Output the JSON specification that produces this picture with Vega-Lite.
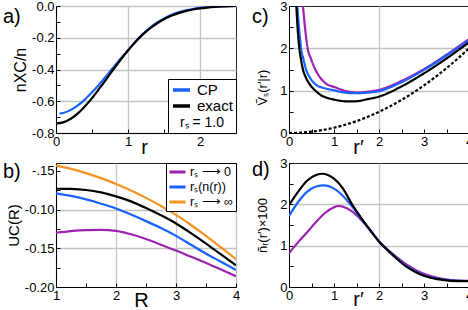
{
  "$schema": "https://vega.github.io/schema/vega-lite/v6.json",
  "padding": {"left": 2, "top": -1, "right": 0, "bottom": 0},
  "background": "white",
  "columns": 2,
  "spacing": {"row": -2, "column": 10},
  "resolve": {"scale": {"color": "independent", "strokeDash": "independent"}, "legend": {"color": "independent", "strokeDash": "independent"}},
  "config": {
    "font": "Liberation Sans",
    "view": {"stroke": "#222222", "strokeWidth": 1},
    "axis": {
      "labelFont": "Liberation Sans", "labelFontSize": 13, "labelColor": "#000000",
      "labelFlush": false, "labelOverlap": false, "labelPadding": 6,
      "domainColor": "#000000", "tickColor": "#000000", "tickSize": -4,
      "gridColor": "#c4c4c4", "gridWidth": 1.3,
      "titleFont": "Liberation Sans", "titleFontWeight": "normal", "titleColor": "#000000"
    },
    "title": {"fontSize": 20, "fontWeight": "normal", "anchor": "start", "frame": "group", "offset": 0, "baseline": "top", "font": "Liberation Sans"},
    "legend": {"labelFont": "Liberation Sans", "titleFont": "Liberation Sans", "labelColor": "#000000", "titleColor": "#000000"}
  },
  "concat": [
    {
      "width": 180, "height": 127,
      "title": {"text": "a)", "dx": -53, "dy": 31},
      "data": {"values": [
        {"r": 0.05, "y": -0.678, "s": "CP"}, {"r": 0.1, "y": -0.674, "s": "CP"}, {"r": 0.2, "y": -0.656, "s": "CP"},
        {"r": 0.3, "y": -0.628, "s": "CP"}, {"r": 0.4, "y": -0.59, "s": "CP"}, {"r": 0.5, "y": -0.544, "s": "CP"},
        {"r": 0.6, "y": -0.494, "s": "CP"}, {"r": 0.7, "y": -0.44, "s": "CP"}, {"r": 0.8, "y": -0.385, "s": "CP"},
        {"r": 0.9, "y": -0.33, "s": "CP"}, {"r": 1.0, "y": -0.278, "s": "CP"}, {"r": 1.1, "y": -0.226, "s": "CP"},
        {"r": 1.2, "y": -0.179, "s": "CP"}, {"r": 1.3, "y": -0.139, "s": "CP"}, {"r": 1.4, "y": -0.105, "s": "CP"},
        {"r": 1.5, "y": -0.078, "s": "CP"}, {"r": 1.6, "y": -0.056, "s": "CP"}, {"r": 1.7, "y": -0.04, "s": "CP"},
        {"r": 1.8, "y": -0.028, "s": "CP"}, {"r": 1.9, "y": -0.019, "s": "CP"}, {"r": 2.0, "y": -0.012, "s": "CP"},
        {"r": 2.1, "y": -0.007, "s": "CP"}, {"r": 2.2, "y": -0.004, "s": "CP"}, {"r": 2.3, "y": -0.002, "s": "CP"},
        {"r": 2.4, "y": -0.001, "s": "CP"}, {"r": 2.5, "y": 0.0, "s": "CP"},
        {"r": 0.0, "y": -0.74, "s": "exact"}, {"r": 0.1, "y": -0.733, "s": "exact"}, {"r": 0.2, "y": -0.712, "s": "exact"},
        {"r": 0.3, "y": -0.678, "s": "exact"}, {"r": 0.4, "y": -0.633, "s": "exact"}, {"r": 0.5, "y": -0.58, "s": "exact"},
        {"r": 0.6, "y": -0.521, "s": "exact"}, {"r": 0.7, "y": -0.46, "s": "exact"}, {"r": 0.8, "y": -0.397, "s": "exact"},
        {"r": 0.9, "y": -0.337, "s": "exact"}, {"r": 1.0, "y": -0.28, "s": "exact"}, {"r": 1.1, "y": -0.228, "s": "exact"},
        {"r": 1.2, "y": -0.182, "s": "exact"}, {"r": 1.3, "y": -0.143, "s": "exact"}, {"r": 1.4, "y": -0.11, "s": "exact"},
        {"r": 1.5, "y": -0.083, "s": "exact"}, {"r": 1.6, "y": -0.061, "s": "exact"}, {"r": 1.7, "y": -0.045, "s": "exact"},
        {"r": 1.8, "y": -0.032, "s": "exact"}, {"r": 1.9, "y": -0.022, "s": "exact"}, {"r": 2.0, "y": -0.015, "s": "exact"},
        {"r": 2.1, "y": -0.01, "s": "exact"}, {"r": 2.2, "y": -0.006, "s": "exact"}, {"r": 2.3, "y": -0.003, "s": "exact"},
        {"r": 2.4, "y": -0.001, "s": "exact"}, {"r": 2.5, "y": 0.0, "s": "exact"}
      ]},
      "mark": {"type": "line", "strokeWidth": 2.2, "clip": true, "interpolate": "monotone"},
      "encoding": {
        "x": {"field": "r", "type": "quantitative", "scale": {"domain": [0, 2.5], "nice": false, "zero": false},
          "axis": {"values": [0, 0.5, 1, 1.5, 2, 2.5], "labelExpr": "datum.value % 1 === 0 ? '' + datum.value : ''",
            "gridOpacity": {"condition": {"test": "datum.value % 1 === 0", "value": 1}, "value": 0},
            "title": "r", "titleFontSize": 20, "titleX": 88, "titleY": 20, "titleBaseline": "alphabetic", "titleAlign": "center"}},
        "y": {"field": "y", "type": "quantitative", "scale": {"domain": [-0.8, 0], "nice": false, "zero": false},
          "axis": {"values": [-0.8, -0.7, -0.6, -0.5, -0.4, -0.3, -0.2, -0.1, 0],
            "labelExpr": "['-0.8','','-0.6','','-0.4','','-0.2','','0.0'][round(datum.value*10)+8]",
            "gridOpacity": {"condition": {"test": "round(datum.value*10) % 2 === 0", "value": 1}, "value": 0},
            "title": "nXC/n", "titleFontSize": 16, "titlePadding": 3}},
        "color": {"field": "s", "type": "nominal",
          "scale": {"domain": ["CP", "exact"], "range": ["#1a62ff", "#000000"]},
          "legend": {"orient": "bottom-right", "offset": 0, "title": "rₛ = 1.0", "titleOrient": "bottom", "titleAnchor": "middle",
            "titleFontSize": 14, "titleFontWeight": "normal", "titlePadding": 2, "labelFontSize": 15, "symbolType": "stroke", "symbolStrokeWidth": 3.5,
            "symbolSize": 289, "clipHeight": 16, "strokeColor": "#000000", "fillColor": "#ffffff", "padding": 3, "rowPadding": 0, "cornerRadius": 0, "labelOffset": 5}}
      }
    },
    {
      "width": 180, "height": 127,
      "title": {"text": "c)", "dx": -37, "dy": 31},
      "data": {"values": [
        {"r": 0.31, "y": 3.0, "s": "p"}, {"r": 0.36, "y": 2.45, "s": "p"}, {"r": 0.415, "y": 2.0, "s": "p"}, {"r": 0.49, "y": 1.75, "s": "p"},
        {"r": 0.585, "y": 1.5, "s": "p"}, {"r": 0.7, "y": 1.3, "s": "p"}, {"r": 0.83, "y": 1.16, "s": "p"}, {"r": 1.0, "y": 1.09, "s": "p"},
        {"r": 1.2, "y": 1.01, "s": "p"}, {"r": 1.4, "y": 0.965, "s": "p"}, {"r": 1.55, "y": 0.955, "s": "p"}, {"r": 1.75, "y": 0.975, "s": "p"},
        {"r": 2.0, "y": 1.02, "s": "p"}, {"r": 2.5, "y": 1.23, "s": "p"}, {"r": 3.0, "y": 1.51, "s": "p"}, {"r": 3.5, "y": 1.85, "s": "p"},
        {"r": 4.0, "y": 2.22, "s": "p"},
        {"r": 0.185, "y": 3.0, "s": "b"}, {"r": 0.225, "y": 2.45, "s": "b"}, {"r": 0.27, "y": 2.0, "s": "b"}, {"r": 0.32, "y": 1.75, "s": "b"},
        {"r": 0.38, "y": 1.5, "s": "b"}, {"r": 0.47, "y": 1.3, "s": "b"}, {"r": 0.585, "y": 1.15, "s": "b"}, {"r": 0.75, "y": 1.07, "s": "b"},
        {"r": 1.0, "y": 1.01, "s": "b"}, {"r": 1.2, "y": 0.96, "s": "b"}, {"r": 1.44, "y": 0.94, "s": "b"}, {"r": 1.7, "y": 0.95, "s": "b"},
        {"r": 2.0, "y": 0.99, "s": "b"}, {"r": 2.5, "y": 1.2, "s": "b"}, {"r": 3.0, "y": 1.49, "s": "b"}, {"r": 3.5, "y": 1.83, "s": "b"},
        {"r": 4.0, "y": 2.19, "s": "b"},
        {"r": 0.163, "y": 3.0, "s": "k"}, {"r": 0.195, "y": 2.42, "s": "k"}, {"r": 0.23, "y": 2.0, "s": "k"}, {"r": 0.265, "y": 1.75, "s": "k"},
        {"r": 0.31, "y": 1.5, "s": "k"}, {"r": 0.38, "y": 1.3, "s": "k"}, {"r": 0.46, "y": 1.15, "s": "k"}, {"r": 0.585, "y": 1.0, "s": "k"},
        {"r": 0.7, "y": 0.9, "s": "k"}, {"r": 0.85, "y": 0.83, "s": "k"}, {"r": 1.0, "y": 0.79, "s": "k"}, {"r": 1.15, "y": 0.76, "s": "k"},
        {"r": 1.33, "y": 0.745, "s": "k"}, {"r": 1.5, "y": 0.75, "s": "k"}, {"r": 1.75, "y": 0.8, "s": "k"}, {"r": 2.0, "y": 0.86, "s": "k"},
        {"r": 2.5, "y": 1.1, "s": "k"}, {"r": 3.0, "y": 1.41, "s": "k"}, {"r": 3.5, "y": 1.76, "s": "k"}, {"r": 4.0, "y": 2.14, "s": "k"},
        {"r": 0.0, "y": 0.0, "s": "d"}, {"r": 0.25, "y": 0.008, "s": "d"}, {"r": 0.5, "y": 0.031, "s": "d"}, {"r": 0.75, "y": 0.07, "s": "d"},
        {"r": 1.0, "y": 0.125, "s": "d"}, {"r": 1.25, "y": 0.195, "s": "d"}, {"r": 1.5, "y": 0.281, "s": "d"}, {"r": 1.75, "y": 0.383, "s": "d"},
        {"r": 2.0, "y": 0.5, "s": "d"}, {"r": 2.25, "y": 0.633, "s": "d"}, {"r": 2.5, "y": 0.781, "s": "d"}, {"r": 2.75, "y": 0.945, "s": "d"},
        {"r": 3.0, "y": 1.125, "s": "d"}, {"r": 3.25, "y": 1.32, "s": "d"}, {"r": 3.5, "y": 1.531, "s": "d"}, {"r": 3.75, "y": 1.758, "s": "d"},
        {"r": 4.0, "y": 2.0, "s": "d"}
      ]},
      "mark": {"type": "line", "strokeWidth": 2.2, "clip": true, "interpolate": "monotone"},
      "encoding": {
        "x": {"field": "r", "type": "quantitative", "scale": {"domain": [0, 4], "nice": false, "zero": false},
          "axis": {"values": [0, 0.5, 1, 1.5, 2, 2.5, 3, 3.5, 4], "labelExpr": "datum.value % 1 === 0 ? '' + datum.value : ''",
            "gridOpacity": {"condition": {"test": "datum.value === 2", "value": 1}, "value": 0},
            "title": "r′", "titleFontSize": 20, "titleX": 69, "titleY": 20, "titleBaseline": "alphabetic", "titleAlign": "center"}},
        "y": {"field": "y", "type": "quantitative", "scale": {"domain": [0, 3], "nice": false, "zero": false},
          "axis": {"values": [0, 0.5, 1, 1.5, 2, 2.5, 3], "labelExpr": "datum.value % 1 === 0 ? '' + datum.value : ''",
            "gridOpacity": {"condition": {"test": "datum.value === 1 || datum.value === 2", "value": 1}, "value": 0},
            "title": "Ṽₛ(r′|r)", "titleFontSize": 13, "titlePadding": 10, "titleY": 81}},
        "color": {"field": "s", "type": "nominal", "legend": null,
          "scale": {"domain": ["d", "k", "b", "p"], "range": ["#000000", "#000000", "#1a62ff", "#9b23b0"]}},
        "strokeDash": {"field": "s", "type": "nominal", "legend": null,
          "scale": {"domain": ["d", "k", "b", "p"], "range": [[3, 2], [1, 0], [1, 0], [1, 0]]}}
      }
    },
    {
      "width": 180, "height": 124,
      "title": {"text": "b)", "dx": -53, "dy": 23},
      "data": {"values": [
        {"R": 1.0, "u": -0.13, "s": "rₛ ⟶ 0"}, {"R": 1.25, "u": -0.1278, "s": "rₛ ⟶ 0"}, {"R": 1.5, "u": -0.1265, "s": "rₛ ⟶ 0"},
        {"R": 1.75, "u": -0.1263, "s": "rₛ ⟶ 0"}, {"R": 2.0, "u": -0.1275, "s": "rₛ ⟶ 0"}, {"R": 2.25, "u": -0.132, "s": "rₛ ⟶ 0"},
        {"R": 2.5, "u": -0.138, "s": "rₛ ⟶ 0"}, {"R": 2.75, "u": -0.1455, "s": "rₛ ⟶ 0"}, {"R": 3.0, "u": -0.153, "s": "rₛ ⟶ 0"},
        {"R": 3.25, "u": -0.161, "s": "rₛ ⟶ 0"}, {"R": 3.5, "u": -0.169, "s": "rₛ ⟶ 0"}, {"R": 3.75, "u": -0.1775, "s": "rₛ ⟶ 0"},
        {"R": 4.0, "u": -0.186, "s": "rₛ ⟶ 0"},
        {"R": 1.0, "u": -0.0791, "s": "rₛ(n(r))"}, {"R": 1.25, "u": -0.0825, "s": "rₛ(n(r))"}, {"R": 1.5, "u": -0.087, "s": "rₛ(n(r))"},
        {"R": 1.75, "u": -0.0925, "s": "rₛ(n(r))"}, {"R": 2.0, "u": -0.0987, "s": "rₛ(n(r))"}, {"R": 2.25, "u": -0.1065, "s": "rₛ(n(r))"},
        {"R": 2.5, "u": -0.115, "s": "rₛ(n(r))"}, {"R": 2.75, "u": -0.124, "s": "rₛ(n(r))"}, {"R": 3.0, "u": -0.134, "s": "rₛ(n(r))"},
        {"R": 3.25, "u": -0.1455, "s": "rₛ(n(r))"}, {"R": 3.5, "u": -0.157, "s": "rₛ(n(r))"}, {"R": 3.75, "u": -0.1675, "s": "rₛ(n(r))"},
        {"R": 4.0, "u": -0.178, "s": "rₛ(n(r))"},
        {"R": 1.0, "u": -0.0434, "s": "rₛ ⟶ ∞"}, {"R": 1.25, "u": -0.0475, "s": "rₛ ⟶ ∞"}, {"R": 1.5, "u": -0.053, "s": "rₛ ⟶ ∞"},
        {"R": 1.75, "u": -0.0595, "s": "rₛ ⟶ ∞"}, {"R": 2.0, "u": -0.067, "s": "rₛ ⟶ ∞"}, {"R": 2.25, "u": -0.0755, "s": "rₛ ⟶ ∞"},
        {"R": 2.5, "u": -0.085, "s": "rₛ ⟶ ∞"}, {"R": 2.75, "u": -0.0955, "s": "rₛ ⟶ ∞"}, {"R": 3.0, "u": -0.107, "s": "rₛ ⟶ ∞"},
        {"R": 3.25, "u": -0.12, "s": "rₛ ⟶ ∞"}, {"R": 3.5, "u": -0.134, "s": "rₛ ⟶ ∞"}, {"R": 3.75, "u": -0.149, "s": "rₛ ⟶ ∞"},
        {"R": 4.0, "u": -0.164, "s": "rₛ ⟶ ∞"},
        {"R": 1.0, "u": -0.0732, "s": "exact"}, {"R": 1.25, "u": -0.0735, "s": "exact"}, {"R": 1.5, "u": -0.0748, "s": "exact"},
        {"R": 1.75, "u": -0.078, "s": "exact"}, {"R": 2.0, "u": -0.083, "s": "exact"}, {"R": 2.25, "u": -0.0895, "s": "exact"},
        {"R": 2.5, "u": -0.098, "s": "exact"}, {"R": 2.75, "u": -0.1075, "s": "exact"}, {"R": 3.0, "u": -0.118, "s": "exact"},
        {"R": 3.25, "u": -0.1305, "s": "exact"}, {"R": 3.5, "u": -0.144, "s": "exact"}, {"R": 3.75, "u": -0.158, "s": "exact"},
        {"R": 4.0, "u": -0.172, "s": "exact"}
      ]},
      "mark": {"type": "line", "strokeWidth": 2.2, "clip": true, "interpolate": "monotone"},
      "encoding": {
        "x": {"field": "R", "type": "quantitative", "scale": {"domain": [1, 4], "nice": false, "zero": false},
          "axis": {"values": [1, 1.5, 2, 2.5, 3, 3.5, 4], "labelExpr": "datum.value % 1 === 0 ? '' + datum.value : ''",
            "gridOpacity": {"condition": {"test": "datum.value % 1 === 0", "value": 1}, "value": 0},
            "title": "R", "titleFontSize": 20, "titleX": 85, "titleY": 19, "titleBaseline": "alphabetic", "titleAlign": "center"}},
        "y": {"field": "u", "type": "quantitative", "scale": {"domain": [-0.2, -0.04], "nice": false, "zero": false},
          "axis": {"values": [-0.2, -0.175, -0.15, -0.125, -0.1, -0.075, -0.05],
            "labelExpr": "['-0.20','','-0.15','','-0.10','','-.15'][round(datum.value*40)+8]",
            "gridOpacity": {"condition": {"test": "round(datum.value*40) === -4 || round(datum.value*40) === -6", "value": 1}, "value": 0},
            "title": "UC(R)", "titleFontSize": 15, "titlePadding": 3}},
        "color": {"field": "s", "type": "nominal",
          "scale": {"domain": ["rₛ ⟶ 0", "rₛ(n(r))", "rₛ ⟶ ∞", "exact"], "range": ["#9b23b0", "#1a62ff", "#f39322", "#000000"]},
          "legend": {"orient": "top-right", "offset": 0, "title": null, "values": ["rₛ ⟶ 0", "rₛ(n(r))", "rₛ ⟶ ∞"],
            "labelFontSize": 12.5, "symbolType": "stroke", "symbolStrokeWidth": 3, "symbolSize": 256, "clipHeight": 14,
            "strokeColor": "#000000", "fillColor": "#ffffff", "padding": 2, "rowPadding": 1, "cornerRadius": 0, "labelOffset": 3}}
      }
    },
    {
      "width": 180, "height": 124,
      "title": {"text": "d)", "dx": -37, "dy": 27},
      "data": {"values": [
        {"r": 0.0, "y": 0.82, "s": "p"}, {"r": 0.2, "y": 1.08, "s": "p"}, {"r": 0.4, "y": 1.32, "s": "p"}, {"r": 0.6, "y": 1.57, "s": "p"},
        {"r": 0.8, "y": 1.79, "s": "p"}, {"r": 1.0, "y": 1.93, "s": "p"}, {"r": 1.1, "y": 1.96, "s": "p"}, {"r": 1.2, "y": 1.94, "s": "p"},
        {"r": 1.4, "y": 1.83, "s": "p"}, {"r": 1.6, "y": 1.63, "s": "p"}, {"r": 1.8, "y": 1.38, "s": "p"}, {"r": 2.0, "y": 1.1, "s": "p"},
        {"r": 2.2, "y": 0.9, "s": "p"}, {"r": 2.4, "y": 0.72, "s": "p"}, {"r": 2.6, "y": 0.55, "s": "p"}, {"r": 2.8, "y": 0.42, "s": "p"},
        {"r": 3.0, "y": 0.32, "s": "p"}, {"r": 3.3, "y": 0.22, "s": "p"}, {"r": 3.6, "y": 0.17, "s": "p"}, {"r": 4.0, "y": 0.15, "s": "p"},
        {"r": 0.0, "y": 1.72, "s": "b"}, {"r": 0.2, "y": 2.05, "s": "b"}, {"r": 0.4, "y": 2.3, "s": "b"}, {"r": 0.6, "y": 2.43, "s": "b"},
        {"r": 0.78, "y": 2.46, "s": "b"}, {"r": 1.0, "y": 2.38, "s": "b"}, {"r": 1.2, "y": 2.2, "s": "b"}, {"r": 1.4, "y": 1.95, "s": "b"},
        {"r": 1.6, "y": 1.66, "s": "b"}, {"r": 1.8, "y": 1.38, "s": "b"}, {"r": 2.0, "y": 1.1, "s": "b"}, {"r": 2.2, "y": 0.89, "s": "b"},
        {"r": 2.4, "y": 0.69, "s": "b"}, {"r": 2.6, "y": 0.51, "s": "b"}, {"r": 2.8, "y": 0.38, "s": "b"}, {"r": 3.0, "y": 0.28, "s": "b"},
        {"r": 3.3, "y": 0.2, "s": "b"}, {"r": 3.6, "y": 0.16, "s": "b"}, {"r": 4.0, "y": 0.145, "s": "b"},
        {"r": 0.0, "y": 1.98, "s": "k"}, {"r": 0.2, "y": 2.3, "s": "k"}, {"r": 0.4, "y": 2.57, "s": "k"}, {"r": 0.6, "y": 2.71, "s": "k"},
        {"r": 0.75, "y": 2.74, "s": "k"}, {"r": 0.9, "y": 2.69, "s": "k"}, {"r": 1.0, "y": 2.62, "s": "k"}, {"r": 1.2, "y": 2.38, "s": "k"},
        {"r": 1.4, "y": 2.0, "s": "k"}, {"r": 1.6, "y": 1.68, "s": "k"}, {"r": 1.8, "y": 1.38, "s": "k"}, {"r": 2.0, "y": 1.1, "s": "k"},
        {"r": 2.2, "y": 0.88, "s": "k"}, {"r": 2.4, "y": 0.68, "s": "k"}, {"r": 2.6, "y": 0.5, "s": "k"}, {"r": 2.8, "y": 0.37, "s": "k"},
        {"r": 3.0, "y": 0.27, "s": "k"}, {"r": 3.3, "y": 0.19, "s": "k"}, {"r": 3.6, "y": 0.15, "s": "k"}, {"r": 4.0, "y": 0.14, "s": "k"}
      ]},
      "mark": {"type": "line", "strokeWidth": 2.2, "clip": true, "interpolate": "monotone"},
      "encoding": {
        "x": {"field": "r", "type": "quantitative", "scale": {"domain": [0, 4], "nice": false, "zero": false},
          "axis": {"values": [0, 0.5, 1, 1.5, 2, 2.5, 3, 3.5, 4], "labelExpr": "datum.value % 1 === 0 ? '' + datum.value : ''",
            "gridOpacity": {"condition": {"test": "datum.value === 2", "value": 1}, "value": 0},
            "title": "r′", "titleFontSize": 20, "titleX": 69, "titleY": 18, "titleBaseline": "alphabetic", "titleAlign": "center"}},
        "y": {"field": "y", "type": "quantitative", "scale": {"domain": [0, 3], "nice": false, "zero": false},
          "axis": {"values": [0, 0.5, 1, 1.5, 2, 2.5, 3], "labelExpr": "datum.value % 1 === 0 ? '' + datum.value : ''",
            "gridOpacity": {"condition": {"test": "datum.value === 1 || datum.value === 2", "value": 1}, "value": 0},
            "title": "ñᵣ(r′)×100", "titleFontSize": 13, "titlePadding": 10}},
        "color": {"field": "s", "type": "nominal", "legend": null,
          "scale": {"domain": ["k", "b", "p"], "range": ["#000000", "#1a62ff", "#9b23b0"]}}
      }
    }
  ]
}
